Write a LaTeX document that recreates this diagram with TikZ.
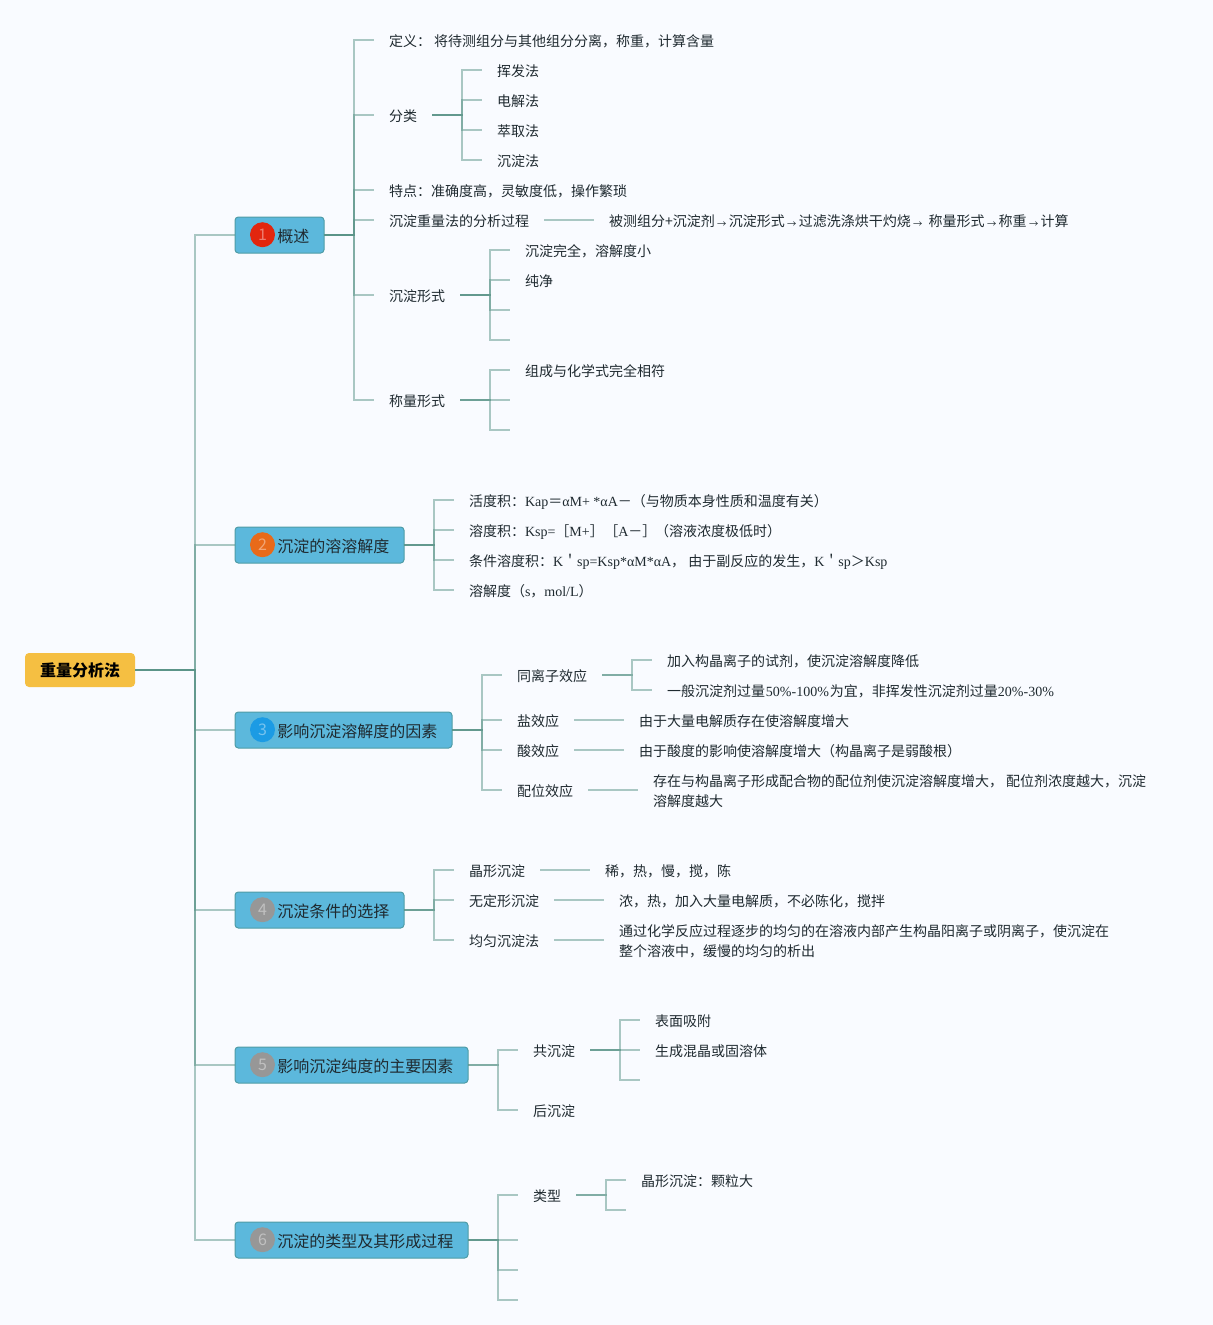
\documentclass[tikz,border=0pt]{standalone}
\usepackage{fontspec}
\setmainfont{Noto Sans CJK SC}
\newfontfamily\latinf{Liberation Serif}
\newcommand{\lt}[1]{{\latinf #1}}
\newcommand{\arw}{\makebox[10.5pt][c]{\raisebox{-0.8pt}{\fontsize{7pt}{7pt}\selectfont →}}}
\newcommand{\st}{\rule[-3pt]{0pt}{15.4pt}}
\newcommand{\stb}{\rule[-3pt]{0pt}{3pt}}
\definecolor{bgc}{HTML}{F9FBFF}
\definecolor{linec}{HTML}{5A9488}
\definecolor{rootc}{HTML}{F5BF42}
\definecolor{boxc}{HTML}{5CB8DC}
\definecolor{boxe}{HTML}{4F9CA6}
\definecolor{txtc}{HTML}{1F2A30}
\definecolor{bred}{HTML}{E2260E}
\definecolor{borange}{HTML}{E86A1A}
\definecolor{bblue}{HTML}{1C9BE4}
\definecolor{bgrey}{HTML}{979797}
\tikzset{
  rootn/.style={fill=rootc,outer sep=0pt,rounded corners=3,minimum width=110*0.75pt,minimum height=34*0.75pt,inner sep=0,font=\fontsize{12pt}{12pt}\selectfont\bfseries,text=black},
  topic/.style={fill=boxc,draw=boxe,outer sep=0pt,line width=0.75pt,rounded corners=2.5,minimum height=36*0.75pt,inner sep=0,anchor=west},
  toptxt/.style={anchor=west,inner sep=0,font=\fontsize{12pt}{12pt}\selectfont,text=txtc},
  badge/.style={circle,minimum size=25*0.75pt,inner sep=0,font=\fontsize{12pt}{12pt}\selectfont,text=white,text opacity=0.4},
  leaf/.style={anchor=west,outer sep=0pt,inner xsep=15*0.75pt,inner ysep=0pt,font=\fontsize{10.5pt}{15pt}\selectfont,text=txtc,align=left},
  link/.style={draw=linec,draw opacity=0.5,line width=1.5pt},
}
\begin{document}
\begin{tikzpicture}[x=0.75pt,y=-0.75pt]
\fill[bgc] (0,0) rectangle (1213,1325);
\useasboundingbox (0,0) rectangle (1213,1325);
% root
\node[rootn] (root) at (80,670) {重量分析法};
% topics
\node[topic,minimum width=89*0.75pt] (t1) at (235,235) {};
\node[topic,minimum width=169*0.75pt] (t2) at (235,545) {};
\node[topic,minimum width=217*0.75pt] (t3) at (235,730) {};
\node[topic,minimum width=169*0.75pt] (t4) at (235,910) {};
\node[topic,minimum width=233*0.75pt] (t5) at (235,1065) {};
\node[topic,minimum width=233*0.75pt] (t6) at (235,1240) {};
\node[toptxt] (t1x) at (277,236) {概述};
\node[toptxt] (t2x) at (277,546) {沉淀的溶溶解度};
\node[toptxt] (t3x) at (277,731) {影响沉淀溶解度的因素};
\node[toptxt] (t4x) at (277,911) {沉淀条件的选择};
\node[toptxt] (t5x) at (277,1066) {影响沉淀纯度的主要因素};
\node[toptxt] (t6x) at (277,1241) {沉淀的类型及其形成过程};
\node[badge,fill=bred] (b1) at (262.5,234.7) {1};
\node[badge,fill=borange] (b2) at (262.5,544.7) {2};
\node[badge,fill=bblue] (b3) at (262.5,729.7) {3};
\node[badge,fill=bgrey] (b4) at (262.5,909.7) {4};
\node[badge,fill=bgrey] (b5) at (262.5,1064.7) {5};
\node[badge,fill=bgrey] (b6) at (262.5,1239.7) {6};
% branch 1
\node[leaf] (a1) at (374,40) {\st 定义： 将待测组分与其他组分分离，称重，计算含量};
\node[leaf] (a2) at (374,115) {\st 分类};
\node[leaf] (a21) at (482,70) {\st 挥发法};
\node[leaf] (a22) at (482,100) {\st 电解法};
\node[leaf] (a23) at (482,130) {\st 萃取法};
\node[leaf] (a24) at (482,160) {\st 沉淀法};
\node[leaf] (a3) at (374,190) {\st 特点：准确度高，灵敏度低，操作繁琐};
\node[leaf] (a4) at (374,220) {\st 沉淀重量法的分析过程};
\node[leaf] (a41) at (594,220) {\st 被测组分+沉淀剂\arw 沉淀形式\arw 过滤洗涤烘干灼烧\arw\kern0.6pt\ 称量形式\arw 称重\arw 计算};
\node[leaf] (a5) at (374,295) {\st 沉淀形式};
\node[leaf] (a51) at (510,250) {\st 沉淀完全，溶解度小};
\node[leaf] (a52) at (510,280) {\st 纯净};
\coordinate (a53) at (510,310);
\coordinate (a54) at (510,340);
\node[leaf] (a6) at (374,400) {\st 称量形式};
\node[leaf] (a61) at (510,370) {\st 组成与化学式完全相符};
\coordinate (a62) at (510,400);
\coordinate (a63) at (510,430);
% branch 2
\node[leaf] (c1) at (454,500) {\st 活度积：\lt{Kap}＝\lt{αM+ *αA}－（与物质本身性质和温度有关）};
\node[leaf] (c2) at (454,530) {\st 溶度积：\lt{Ksp=}［\lt{M+}］\kern-2pt\ ［\lt{A}－］\kern-3.25pt\ （溶液浓度极低时）};
\node[leaf] (c3) at (454,560) {\st 条件溶度积：\lt{K}＇\lt{sp=Ksp*αM*αA}， 由于副反应的发生，\lt{K}＇\lt{sp}＞\lt{Ksp}};
\node[leaf] (c4) at (454,590) {\st 溶解度（\lt{s}，\lt{mol/L}）};
% branch 3
\node[leaf] (d1) at (502,675) {\st 同离子效应};
\node[leaf] (d11) at (652,660) {\st 加入构晶离子的试剂，使沉淀溶解度降低};
\node[leaf] (d12) at (652,690) {\st 一般沉淀剂过量\kern0.7pt\lt{50\%-100\%}\kern0.8pt 为宜，非挥发性沉淀剂过量\lt{20\%-30\%}};
\node[leaf] (d2) at (502,720) {\st 盐效应};
\node[leaf] (d21) at (624,720) {\st 由于大量电解质存在使溶解度增大};
\node[leaf] (d3) at (502,750) {\st 酸效应};
\node[leaf] (d31) at (624,750) {\st 由于酸度的影响使溶解度增大（构晶离子是弱酸根）};
\node[leaf] (d4) at (502,790) {\st 配位效应};
\node[leaf] (d41) at (638,790) {\st 存在与构晶离子形成配合物的配位剂使沉淀溶解度增大， 配位剂浓度越大，沉淀\\\stb 溶解度越大};
% branch 4
\node[leaf] (e1) at (454,870) {\st 晶形沉淀};
\node[leaf] (e11) at (590,870) {\st 稀，热，慢，搅，陈};
\node[leaf] (e2) at (454,900) {\st 无定形沉淀};
\node[leaf] (e21) at (604,900) {\st 浓，热，加入大量电解质，不必陈化，搅拌};
\node[leaf] (e3) at (454,940) {\st 均匀沉淀法};
\node[leaf] (e31) at (604,940) {\st 通过化学反应过程逐步的均匀的在溶液内部产生构晶阳离子或阴离子，使沉淀在\\\stb 整个溶液中，缓慢的均匀的析出};
% branch 5
\node[leaf] (f1) at (518,1050) {\st 共沉淀};
\node[leaf] (f11) at (640,1020) {\st 表面吸附};
\node[leaf] (f12) at (640,1050) {\st 生成混晶或固溶体};
\coordinate (f13) at (640,1080);
\node[leaf] (f2) at (518,1110) {\st 后沉淀};
% branch 6
\node[leaf] (g1) at (518,1195) {\st 类型};
\node[leaf] (g11) at (626,1180) {\st 晶形沉淀：颗粒大};
\coordinate (g12) at (626,1210);
\coordinate (g2) at (518,1240);
\coordinate (g3) at (518,1270);
\coordinate (g4) at (518,1300);
% connectors: translucent, so shared runs darken where they overlap
\foreach \c in {t1,t2,t3,t4,t5,t6} \draw[link] (root.east) -- ++(60,0) |- (\c.west);
\foreach \c in {a1,a2,a3,a4,a5,a6} \draw[link] (t1.east) -- ++(30,0) |- (\c.west);
\foreach \c in {a21,a22,a23,a24} \draw[link] (a2.east) -- ++(30,0) |- (\c.west);
\foreach \c in {a51,a52,a53,a54} \draw[link] (a5.east) -- ++(30,0) |- (\c);
\foreach \c in {a61,a62,a63} \draw[link] (a6.east) -- ++(30,0) |- (\c);
\foreach \c in {c1,c2,c3,c4} \draw[link] (t2.east) -- ++(30,0) |- (\c.west);
\foreach \c in {d1,d2,d3,d4} \draw[link] (t3.east) -- ++(30,0) |- (\c.west);
\foreach \c in {d11,d12} \draw[link] (d1.east) -- ++(30,0) |- (\c.west);
\foreach \c in {e1,e2,e3} \draw[link] (t4.east) -- ++(30,0) |- (\c.west);
\foreach \c in {f1,f2} \draw[link] (t5.east) -- ++(30,0) |- (\c.west);
\foreach \c in {f11,f12,f13} \draw[link] (f1.east) -- ++(30,0) |- (\c);
\foreach \c in {g1,g2,g3,g4} \draw[link] (t6.east) -- ++(30,0) |- (\c);
\foreach \c in {g11,g12} \draw[link] (g1.east) -- ++(30,0) |- (\c);
% straight links
\draw[link] (a4.east) -- (a41.west);
\draw[link] (d2.east) -- (d21.west);
\draw[link] (d3.east) -- (d31.west);
\draw[link] (d4.east) -- (d41.west);
\draw[link] (e1.east) -- (e11.west);
\draw[link] (e2.east) -- (e21.west);
\draw[link] (e3.east) -- (e31.west);
\end{tikzpicture}
\end{document}
